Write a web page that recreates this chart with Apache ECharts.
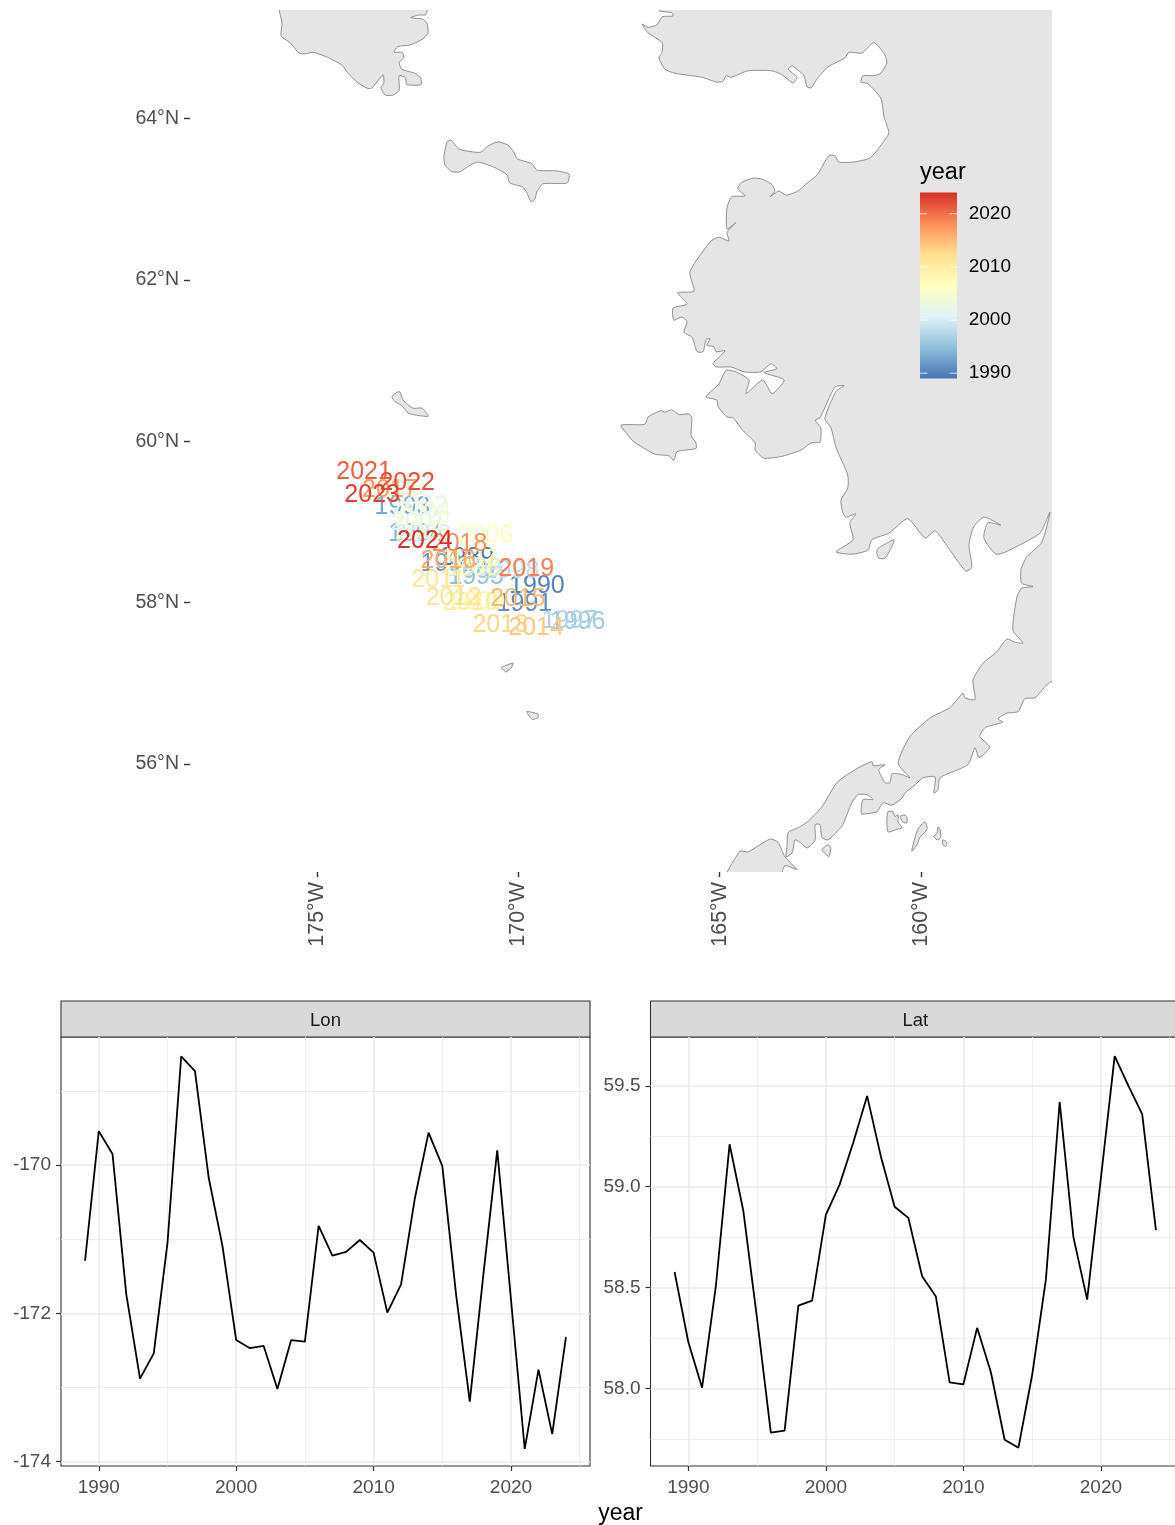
<!DOCTYPE html>
<html>
<head>
<meta charset="utf-8">
<title>year map</title>
<script src="https://cdn.jsdelivr.net/npm/echarts@6/dist/echarts.min.js"></script>
<style>
html, body { margin: 0; padding: 0; background: #fff; overflow: hidden; }
#main { width: 1175px; height: 1525px; }
</style>
</head>
<body>
<div id="main"></div>
<script>
// no 2020 entry: the lines in the panels run straight from 2019 to 2021
var years = [1989, 1990, 1991, 1992, 1993, 1994, 1995, 1996, 1997, 1998, 1999, 2000, 2001, 2002, 2003, 2004, 2005, 2006,
    2007, 2008, 2009, 2010, 2011, 2012, 2013, 2014, 2015, 2016, 2017, 2018, 2019, 2021, 2022, 2023, 2024];
var lonValues = [-171.29, -169.54, -169.85, -171.74, -172.88, -172.54, -171.05, -168.53, -168.73, -170.17, -171.09, -172.36,
    -172.47, -172.44, -173.02, -172.36, -172.38, -170.82, -171.22, -171.17, -171.01, -171.18, -171.99, -171.61,
    -170.45, -169.56, -170.01, -171.74, -173.19, -171.46, -169.80, -173.83, -172.76, -173.63, -172.32];
var latValues = [58.577, 58.23, 58.003, 58.505, 59.21, 58.88, 58.345, 57.78, 57.79, 58.41, 58.435, 58.86,
    59.01, 59.22, 59.45, 59.15, 58.90, 58.845, 58.556, 58.455, 58.03, 58.02, 58.30, 58.08,
    57.745, 57.705, 58.066, 58.54, 59.42, 58.75, 58.44, 59.647, 59.50, 59.36, 58.785];

var yearColors = ['#4575b4', '#91bfdb', '#e0f3f8', '#ffffbf', '#fee090', '#fc8d59', '#d73027'];
var legendTicks = [1990, 2000, 2010, 2020];
var mapLonTicks = [-175, -170, -165, -160];
var mapLatTicks = [56, 58, 60, 62, 64];
var yearTicks = [1990, 2000, 2010, 2020];
var yearMinorTicks = [1995, 2005, 2015, 2025];
var lonTicks = [-174, -172, -170];
var lonMinorTicks = [-173, -171, -169];
var latTicks = [58, 58.5, 59, 59.5];
var latMinorTicks = [57.75, 58.25, 58.75, 59.25];

// coastlines, lon/lat
var chukotka = [[-175.97,65.59],[-175.87,65.18],[-175.89,65.02],[-175.67,64.94],[-175.45,64.81],[-175.30,64.80],[-175.10,64.82],
    [-174.75,64.76],[-174.38,64.66],[-174.23,64.56],[-173.98,64.44],[-173.73,64.37],[-173.63,64.38],[-173.36,64.54],[-173.34,64.44],
    [-173.41,64.38],[-173.31,64.29],[-173.11,64.29],[-172.96,64.35],[-172.96,64.53],[-172.81,64.51],[-172.77,64.42],[-172.42,64.42],
    [-172.42,64.50],[-172.57,64.56],[-172.89,64.61],[-172.96,64.69],[-172.84,64.76],[-172.89,64.82],[-173.09,64.82],[-172.99,64.89],
    [-172.69,64.91],[-172.39,64.98],[-172.24,65.06],[-172.27,65.18],[-172.37,65.23],[-172.67,65.25],[-172.49,65.28],[-172.29,65.29],[-172.27,65.59]];
var stLawrence = [[-171.77,63.71],[-171.67,63.73],[-171.47,63.62],[-170.95,63.58],[-170.75,63.66],[-170.51,63.71],[-170.26,63.67],
    [-170.11,63.58],[-170.03,63.50],[-169.66,63.44],[-169.54,63.36],[-169.04,63.35],[-168.74,63.31],[-168.79,63.20],[-169.39,63.19],
    [-169.54,63.09],[-169.59,63.00],[-169.69,62.97],[-169.79,63.08],[-169.89,63.15],[-170.21,63.20],[-170.28,63.30],[-170.58,63.39],
    [-171.00,63.46],[-171.20,63.42],[-171.45,63.34],[-171.65,63.34],[-171.82,63.42],[-171.85,63.52]];
var stMatthew = [[-173.14,60.55],[-173.01,60.61],[-172.94,60.61],[-172.86,60.51],[-172.62,60.41],[-172.39,60.41],[-172.24,60.31],
    [-172.62,60.33],[-172.74,60.35],[-172.89,60.44],[-173.06,60.49]];
var stPaul = [[-170.41,57.20],[-170.13,57.25],[-170.18,57.19],[-170.31,57.14],[-170.38,57.17]];
var stGeorge = [[-169.79,56.65],[-169.51,56.62],[-169.51,56.58],[-169.64,56.55],[-169.71,56.58]];
var nunivak = [[-167.45,60.20],[-166.86,60.21],[-166.78,60.30],[-166.46,60.38],[-166.36,60.36],[-166.19,60.39],[-166.01,60.33],
    [-165.76,60.34],[-165.69,60.28],[-165.71,60.07],[-165.59,59.98],[-165.59,59.91],[-166.06,59.87],[-166.14,59.76],[-166.26,59.82],
    [-166.61,59.84],[-167.15,60.00],[-167.30,60.09]];
var hagemeister = [[-160.67,58.78],[-161.07,58.67],[-161.10,58.62],[-161.05,58.55],[-160.90,58.55],[-160.77,58.65]];
var shumaginA = [[-160.82,55.41],[-160.70,55.41],[-160.65,55.35],[-160.57,55.37],[-160.57,55.28],[-160.47,55.21],[-160.60,55.19],[-160.82,55.16],[-160.85,55.31]];
var shumaginB = [[-160.52,55.35],[-160.40,55.37],[-160.35,55.34],[-160.35,55.27],[-160.45,55.28]];
var shumaginC = [[-159.93,55.28],[-159.88,55.27],[-159.85,55.19],[-160.03,55.09],[-160.10,55.00],[-160.23,54.92],[-160.15,55.09],[-160.08,55.19]];
var shumaginD = [[-159.58,55.22],[-159.53,55.19],[-159.51,55.09],[-159.60,55.06],[-159.68,55.10],[-159.60,55.15]];
var shumaginE = [[-159.46,55.06],[-159.36,55.03],[-159.38,54.98],[-159.46,55.00]];
var amak = [[-162.31,55.00],[-162.24,54.96],[-162.29,54.85],[-162.36,54.88],[-162.46,54.94]];
var unimak = [[-164.92,54.50],[-164.50,54.92],[-164.30,54.91],[-163.75,55.07],[-163.55,55.03],[-163.38,54.85],[-163.08,54.69],[-163.38,54.74],[-163.60,54.50]];
var alaska = [[-166.60,65.59],[-166.51,65.34],[-166.19,65.31],[-166.16,65.27],[-166.43,65.26],[-166.56,65.16],[-166.78,65.13],[-166.93,65.17],[-166.78,65.06],
    [-166.43,64.94],[-166.43,64.82],[-166.51,64.75],[-166.36,64.61],[-166.11,64.56],[-165.44,64.51],[-165.07,64.45],[-164.92,64.46],
    [-164.84,64.53],[-164.72,64.51],[-164.30,64.59],[-163.70,64.59],[-163.45,64.54],[-163.18,64.44],[-163.08,64.51],[-163.30,64.61],
    [-163.20,64.65],[-162.91,64.53],[-162.83,64.39],[-162.73,64.38],[-162.58,64.49],[-162.31,64.64],[-161.89,64.75],[-161.79,64.82],
    [-161.47,64.81],[-161.17,64.94],[-160.90,64.79],[-160.85,64.69],[-161.00,64.56],[-161.19,64.53],[-161.44,64.53],[-161.49,64.45],
    [-161.32,64.43],[-161.00,64.25],[-160.92,64.02],[-160.80,63.82],[-160.95,63.70],[-161.27,63.51],[-161.69,63.46],[-162.04,63.46],
    [-162.14,63.54],[-162.29,63.54],[-162.58,63.30],[-162.83,63.20],[-163.06,63.10],[-163.35,63.05],[-163.53,63.10],[-163.75,63.03],
    [-163.63,63.10],[-163.70,63.18],[-163.95,63.25],[-164.17,63.26],[-164.45,63.21],[-164.55,63.13],[-164.37,63.04],[-164.70,63.03],
    [-164.82,62.89],[-164.82,62.63],[-164.60,62.71],[-164.82,62.59],[-164.77,62.48],[-165.02,62.53],[-165.24,62.47],[-165.74,62.10],
    [-165.64,61.86],[-166.04,61.84],[-165.81,61.70],[-166.16,61.65],[-166.14,61.50],[-165.94,61.54],[-165.81,61.48],[-165.89,61.35],
    [-165.69,61.29],[-165.56,61.11],[-165.41,61.11],[-165.34,61.26],[-165.24,61.27],[-165.32,61.19],[-165.14,61.17],[-165.09,61.11],
    [-164.87,61.12],[-165.17,60.96],[-165.07,60.92],[-164.72,60.92],[-164.40,60.86],[-163.98,60.86],[-163.73,60.96],[-163.58,60.90],
    [-163.90,60.85],[-163.40,60.76],[-163.70,60.59],[-163.93,60.76],[-164.35,60.59],[-164.27,60.76],[-164.60,60.86],[-164.84,60.88],
    [-165.02,60.71],[-165.34,60.55],[-165.07,60.51],[-165.04,60.43],[-164.82,60.30],[-164.67,60.29],[-164.42,60.13],[-164.12,59.98],
    [-164.12,59.89],[-163.90,59.79],[-163.48,59.81],[-162.98,59.89],[-162.73,59.98],[-162.51,59.99],[-162.49,60.17],[-162.63,60.26],
    [-162.51,60.29],[-162.14,60.67],[-161.91,60.69],[-162.11,60.62],[-162.39,60.28],[-162.24,60.17],[-162.11,59.92],[-161.82,59.58],
    [-161.82,59.42],[-161.99,59.27],[-161.94,59.11],[-161.86,59.06],[-161.62,59.10],[-161.77,58.99],[-161.69,58.78],[-162.11,58.63],
    [-161.72,58.60],[-161.32,58.65],[-161.22,58.78],[-160.80,58.86],[-160.33,59.04],[-159.90,58.80],[-159.65,58.89],[-159.38,58.72],
    [-158.89,58.39],[-158.74,58.44],[-158.81,58.72],[-158.69,58.94],[-158.44,59.06],[-158.02,58.96],[-158.34,58.99],[-158.44,58.80],
    [-158.14,58.60],[-157.89,58.63],[-157.05,58.86],[-156.80,59.12],[-157.00,58.75],[-157.37,58.57],[-157.52,58.41],[-157.50,58.24],
    [-157.22,58.20],[-157.50,58.18],[-157.62,58.07],[-157.72,57.66],[-157.47,57.50],[-157.67,57.51],[-157.87,57.55],[-158.12,57.39],
    [-158.46,57.25],[-158.71,57.04],[-158.66,56.80],[-158.91,56.82],[-158.96,56.88],[-159.28,56.70],[-159.78,56.57],[-160.28,56.34],
    [-160.57,56.01],[-160.28,55.83],[-160.47,55.87],[-160.72,55.88],[-160.77,55.77],[-160.90,55.77],[-161.05,55.93],[-160.90,55.99],
    [-161.19,55.98],[-161.22,56.03],[-161.57,55.95],[-162.09,55.77],[-162.46,55.47],[-162.83,55.28],[-163.06,55.21],[-163.30,55.15],
    [-163.33,54.97],[-163.35,54.85],[-163.20,54.90],[-163.13,55.06],[-163.01,55.03],[-162.83,54.96],[-162.63,55.06],[-162.63,55.25],
    [-162.51,55.25],[-162.46,55.09],[-162.31,55.06],[-162.09,55.16],[-161.94,55.25],[-161.72,55.52],[-161.57,55.62],[-161.34,55.62],
    [-161.19,55.56],[-161.44,55.56],[-161.49,55.43],[-161.47,55.38],[-161.09,55.41],[-160.95,55.52],[-160.72,55.49],[-160.47,55.58],
    [-160.40,55.64],[-160.15,55.74],[-159.95,55.83],[-159.65,55.84],[-159.68,55.64],[-159.58,55.68],[-159.53,55.83],[-158.84,55.99],
    [-158.66,56.20],[-158.56,56.08],[-158.29,56.21],[-158.54,56.34],[-158.41,56.45],[-157.97,56.52],[-158.09,56.56],[-157.87,56.63],
    [-157.59,56.65],[-157.42,56.81],[-157.17,56.82],[-156.92,56.96],[-156.75,57.02],[-155.5,56.9],[-155.5,65.6]];
var landShapes = [chukotka, stLawrence, stMatthew, stPaul, stGeorge, nunivak, hagemeister, shumaginA, shumaginB, shumaginC,
    shumaginD, shumaginE, amak, unimak, alaska];

var myChart = echarts.init(document.getElementById('main'), null, { renderer: 'canvas' });

var fontName = '"Liberation Sans", Arial, sans-serif';
var gridColor = '#ebebeb';

function panelXAxis(gridIndex) {
    return {
        type: 'value', gridIndex: gridIndex, min: 1987.25, max: 2025.75,
        axisLine: { show: false },
        axisTick: { show: true, length: 5, customValues: yearTicks, lineStyle: { color: '#333333', width: 1.2 } },
        axisLabel: { show: true, margin: 12, fontSize: 19, color: '#4d4d4d', fontFamily: fontName, customValues: yearTicks,
            formatter: function (v) { return String(v); } },
        splitLine: { show: true, lineStyle: { color: gridColor, width: 1.6 } }
    };
}
function panelMinorX(gridIndex) {
    return {
        type: 'value', gridIndex: gridIndex, min: 1987.25, max: 2025.75, position: 'top',
        axisLine: { show: false },
        axisTick: { show: false, customValues: yearMinorTicks },
        axisLabel: { show: false, customValues: yearMinorTicks },
        splitLine: { show: true, lineStyle: { color: gridColor, width: 0.8 } }
    };
}
function panelYAxis(gridIndex, min, max, ticks, digits) {
    return {
        type: 'value', gridIndex: gridIndex, min: min, max: max,
        axisLine: { show: false },
        axisTick: { show: true, length: 5, customValues: ticks, lineStyle: { color: '#333333', width: 1.2 } },
        axisLabel: { show: true, margin: 10, fontSize: 19, color: '#4d4d4d', fontFamily: fontName, customValues: ticks, padding: [4, 0, 0, 0],
            formatter: function (v) { return v.toFixed(digits); } },
        splitLine: { show: true, lineStyle: { color: gridColor, width: 1.6 } }
    };
}
function panelMinorY(gridIndex, min, max, ticks) {
    return {
        type: 'value', gridIndex: gridIndex, min: min, max: max, position: 'right',
        axisLine: { show: false },
        axisTick: { show: false, customValues: ticks },
        axisLabel: { show: false, customValues: ticks },
        splitLine: { show: true, lineStyle: { color: gridColor, width: 0.8 } }
    };
}
function stripBox(x, width, label) {
    return {
        type: 'rect', silent: true,
        shape: { x: x, y: 1001, width: width, height: 36 },
        style: { fill: '#d9d9d9', stroke: '#333333', lineWidth: 1.1 },
        textContent: { style: { text: label, fill: '#1a1a1a', fontSize: 18.5, fontFamily: fontName } },
        textConfig: { position: 'inside', offset: [0, 1.5] }
    };
}

var stops = yearColors.map(function (c, i) { return { offset: i / (yearColors.length - 1), color: c }; });

var option = {
    animation: false,
    backgroundColor: '#ffffff',
    textStyle: { fontFamily: fontName },
    grid: [
        { left: 190, top: 10, width: 862, height: 862, outerBoundsMode: 'none' },
        { left: 61, top: 1037, width: 529, height: 429, show: true, backgroundColor: '#fff', borderColor: '#333333', borderWidth: 1.1, outerBoundsMode: 'none' },
        { left: 650.5, top: 1037, width: 529.5, height: 429, show: true, backgroundColor: '#fff', borderColor: '#333333', borderWidth: 1.1, outerBoundsMode: 'none' },
        { left: 920, top: 192.5, width: 37, height: 186, outerBoundsMode: 'none' }
    ],
    xAxis: [
        {
            type: 'value', gridIndex: 0, min: -178.154, max: -156.748,
            axisLine: { show: false }, splitLine: { show: false },
            axisTick: { show: true, length: 5, customValues: mapLonTicks, lineStyle: { color: '#333333', width: 1.4 } },
            axisLabel: { show: true, rotate: 90, margin: 10, fontSize: 21.5, color: '#4d4d4d', fontFamily: fontName, customValues: mapLonTicks,
                formatter: function (v) { return (-v) + '°W'; } }
        },
        panelXAxis(1), panelMinorX(1), panelXAxis(2), panelMinorX(2),
        { type: 'value', gridIndex: 3, min: 0, max: 1, show: false }
    ],
    yAxis: [
        {
            type: 'value', gridIndex: 0, min: 54.662, max: 65.344,
            axisLine: { show: false }, splitLine: { show: false },
            axisTick: { show: true, length: 6, customValues: mapLatTicks, lineStyle: { color: '#333333', width: 1.4 } },
            axisLabel: { show: true, margin: 11, fontSize: 19.5, color: '#4d4d4d', fontFamily: fontName, customValues: mapLatTicks, padding: [4, 0, 0, 0],
                formatter: function (v) { return v + '°N'; } }
        },
        panelYAxis(1, -174.06, -168.27, lonTicks, 0), panelMinorY(1, -174.06, -168.27, lonMinorTicks),
        panelYAxis(2, 57.615, 59.742, latTicks, 1), panelMinorY(2, 57.615, 59.742, latMinorTicks),
        {
            type: 'value', gridIndex: 3, min: 1989, max: 2024, position: 'right', z: 10,
            axisLine: { show: false }, splitLine: { show: false },
            axisTick: { show: false, customValues: legendTicks },
            axisLabel: { show: true, margin: 54, align: 'right', fontSize: 19, color: '#000000', fontFamily: fontName, customValues: legendTicks, padding: [6, 0, 0, 0],
                formatter: function (v) { return String(v); } }
        }
    ],
    visualMap: {
        show: false, type: 'continuous', seriesIndex: 1, dimension: 2, min: 1989, max: 2024,
        inRange: { color: yearColors }
    },
    series: [
        {
            name: 'land', type: 'custom', coordinateSystem: 'cartesian2d', xAxisIndex: 0, yAxisIndex: 0, clip: true, silent: true,
            encode: { x: 0, y: 1 },
            data: landShapes.map(function (s, i) { return [s[0][0], s[0][1], i]; }),
            renderItem: function (params, api) {
                return {
                    type: 'polygon',
                    shape: { points: landShapes[api.value(2)].map(function (p) { return api.coord(p); }), smooth: 0.2 },
                    style: { fill: '#e5e5e5', stroke: '#666666', lineWidth: 0.7 }
                };
            }
        },
        {
            name: 'year labels', type: 'custom', coordinateSystem: 'cartesian2d', xAxisIndex: 0, yAxisIndex: 0, silent: true,
            encode: { x: 0, y: 1 },
            data: years.map(function (y, i) { return [lonValues[i], latValues[i], y]; }),
            renderItem: function (params, api) {
                var p = api.coord([api.value(0), api.value(1)]);
                return {
                    type: 'text',
                    style: { x: p[0], y: p[1] + 2, text: String(api.value(2)), fill: api.visual('color'),
                        fontSize: 25, fontFamily: fontName, align: 'center', verticalAlign: 'middle' }
                };
            }
        },
        {
            name: 'Lon', type: 'line', xAxisIndex: 1, yAxisIndex: 1, showSymbol: false, symbol: 'none', silent: true,
            lineStyle: { color: '#000000', width: 1.8 },
            data: years.map(function (y, i) { return [y, lonValues[i]]; })
        },
        {
            name: 'Lat', type: 'line', xAxisIndex: 3, yAxisIndex: 3, showSymbol: false, symbol: 'none', silent: true,
            lineStyle: { color: '#000000', width: 1.8 },
            data: years.map(function (y, i) { return [y, latValues[i]]; })
        },
        {
            name: 'colorbar', type: 'custom', coordinateSystem: 'cartesian2d', xAxisIndex: 5, yAxisIndex: 5, silent: true, z: 5,
            encode: { x: 0, y: 1 },
            data: [[0, 1989]],
            renderItem: function (params, api) {
                var a = api.coord([0, 1989]);
                var b = api.coord([1, 2024]);
                return {
                    type: 'rect',
                    shape: { x: a[0], y: b[1], width: b[0] - a[0], height: a[1] - b[1] },
                    style: { fill: new echarts.graphic.LinearGradient(0, 1, 0, 0, stops) }
                };
            }
        },
        {
            name: 'colorbar ticks', type: 'custom', coordinateSystem: 'cartesian2d', xAxisIndex: 5, yAxisIndex: 5, silent: true, z: 6,
            encode: { x: 0, y: 1 },
            data: legendTicks.map(function (t) { return [0, t]; }),
            renderItem: function (params, api) {
                var t = api.value(1);
                var tickStyle = { stroke: '#ffffff', lineWidth: 0.8 };
                var a = api.coord([0, t]), b = api.coord([0.2, t]), c = api.coord([0.8, t]), d = api.coord([1, t]);
                return {
                    type: 'group',
                    children: [
                        { type: 'line', shape: { x1: a[0], y1: a[1], x2: b[0], y2: b[1] }, style: tickStyle },
                        { type: 'line', shape: { x1: c[0], y1: c[1], x2: d[0], y2: d[1] }, style: tickStyle }
                    ]
                };
            }
        }
    ],
    graphic: [
        stripBox(61, 529, 'Lon'),
        stripBox(650.5, 529.5, 'Lat'),
        { type: 'text', silent: true, z: 10, style: { x: 920, y: 173, text: 'year', fill: '#000000', fontSize: 23.5, fontFamily: fontName, align: 'left', verticalAlign: 'middle' } },
        { type: 'text', silent: true, style: { x: 620.5, y: 1514, text: 'year', fill: '#000000', fontSize: 23, fontFamily: fontName, align: 'center', verticalAlign: 'middle' } }
    ]
};

myChart.setOption(option, true);
window.onresize = myChart.resize;
</script>
</body>
</html>
